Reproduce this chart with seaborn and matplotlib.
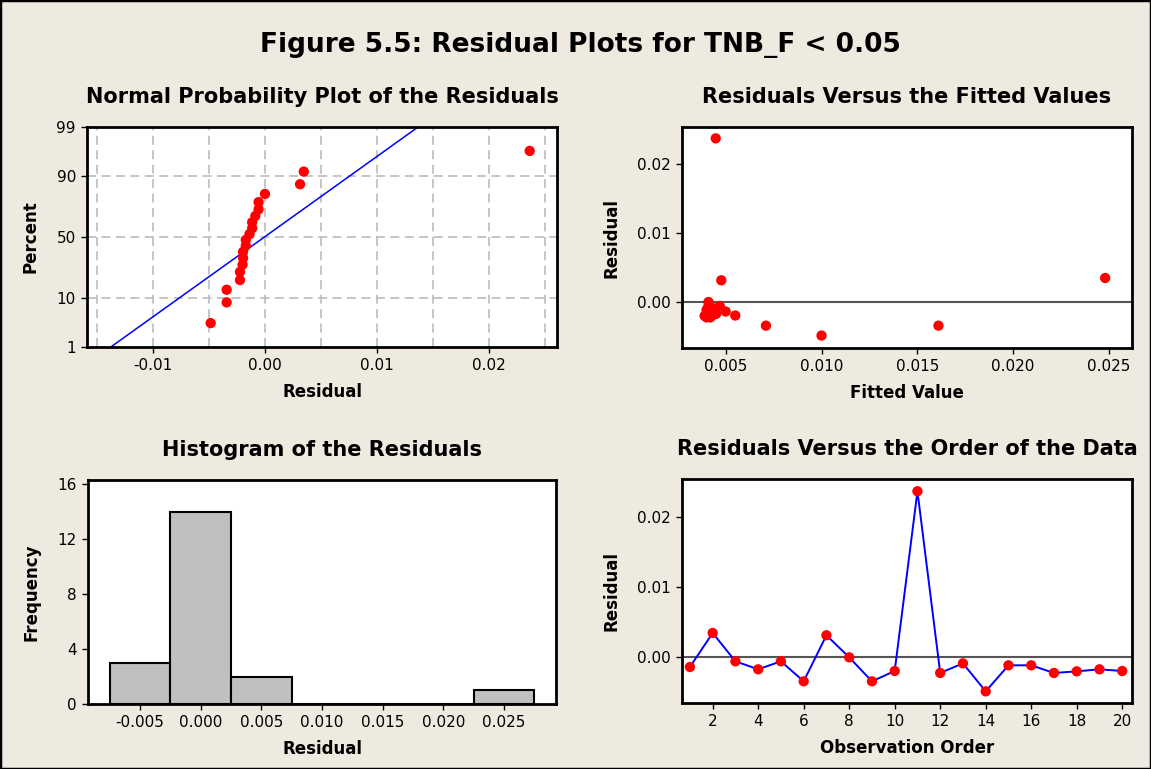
import numpy as np
import pandas as pd
import matplotlib
matplotlib.use("Agg")
import matplotlib.pyplot as plt
import seaborn as sns
from statistics import NormalDist

order = list(range(1, 21))
residual = [-0.00138, 0.00347, -0.00057, -0.00171, -0.00057, -0.00342, 0.00314, 0.00000,
            -0.00342, -0.00195, 0.02366, -0.00223, -0.00086, -0.00485, -0.00114, -0.00114,
            -0.00223, -0.00200, -0.00171, -0.00195]
fitted = [0.0050, 0.0248, 0.00469, 0.0042, 0.0041, 0.0071, 0.00477, 0.0041,
          0.0161, 0.0055, 0.00448, 0.0040, 0.0043, 0.0100, 0.0040, 0.0044,
          0.0042, 0.0039, 0.0045, 0.0043]
pct_ticks = [1, 10, 50, 90, 99]

df = pd.DataFrame({"order": order, "residual": residual, "fitted": fitted})

sns.set_style("white")
plt.rcParams['font.family'] = ['DejaVu Sans']
plt.rcParams.update({"text.color": "black", "axes.labelcolor": "black",
                     "xtick.color": "black", "ytick.color": "black"})

BG = "#eeeae0"
W, H = 1151, 769
fig = plt.figure(figsize=(W / 100, H / 100), dpi=100, facecolor=BG)
fig.patches.append(plt.Rectangle((0, 0), 1, 1, transform=fig.transFigure, fill=False,
                                 edgecolor="black", linewidth=2.5))


def px_axes(left, top, right, bottom):
    ax = fig.add_axes([left / W, 1 - bottom / H, (right - left) / W, (bottom - top) / H])
    ax.set_facecolor("white")
    for s in ax.spines.values():
        s.set_color("black")
        s.set_linewidth(2)
    ax.tick_params(axis="both", direction="out", length=4, width=1, labelsize=11,
                   colors="black", bottom=True, left=True, pad=4)
    return ax


def style(ax, title, xlabel, ylabel):
    ax.set_title(title, fontsize=15, fontweight="bold", pad=17)
    ax.set_xlabel(xlabel, fontsize=12, fontweight="bold", labelpad=7)
    ax.set_ylabel(ylabel, fontsize=12, fontweight="bold", labelpad=12)


fig.text(580 / W, 1 - 45 / H, "Figure 5.5: Residual Plots for TNB_F < 0.05",
         ha="center", va="center", fontsize=19, fontweight="bold")

# --- normal probability plot
ax1 = px_axes(87, 127, 557, 347)
nd = NormalDist()
n = len(residual)
srt = np.sort(residual)
zq = [nd.inv_cdf((i - 0.3) / (n + 0.4)) for i in range(1, n + 1)]
mu, sd = np.mean(residual), np.std(residual, ddof=1)
zl = np.array([nd.inv_cdf(0.005), nd.inv_cdf(0.995)])
ax1.plot(mu + sd * zl, zl, color="blue", linewidth=1.1)
sns.scatterplot(x=srt, y=zq, ax=ax1, color="red", s=55, edgecolor="none", zorder=3)
ax1.set_xlim(-0.0159, 0.0261)
ax1.set_ylim(nd.inv_cdf(0.01), nd.inv_cdf(0.99))
ax1.set_yticks([nd.inv_cdf(p / 100) for p in pct_ticks])
ax1.set_yticklabels([str(p) for p in pct_ticks])
ax1.set_xticks([-0.01, 0.0, 0.01, 0.02])
ax1.set_xticklabels(["-0.01", "0.00", "0.01", "0.02"])
for gx in np.arange(-0.015, 0.0251, 0.005):
    ax1.axvline(gx, color="#c0c0c0", linestyle=(0, (5, 3)), linewidth=1.3, zorder=0)
for p in [10, 50, 90]:
    ax1.axhline(nd.inv_cdf(p / 100), color="#c0c0c0", linestyle=(0, (5, 3)), linewidth=1.3, zorder=0)
style(ax1, "Normal Probability Plot of the Residuals", "Residual", "Percent")

# --- residuals vs fitted
ax2 = px_axes(682, 127, 1132, 348)
ax2.axhline(0, color="#555555", linewidth=1.5, zorder=1)
sns.scatterplot(data=df, x="fitted", y="residual", ax=ax2, color="red", s=55,
                edgecolor="none", zorder=3)
ax2.set_xlim(0.00272, 0.0262)
ax2.set_ylim(-0.00665, 0.0253)
ax2.set_xticks([0.005, 0.010, 0.015, 0.020, 0.025])
ax2.set_xticklabels(["0.005", "0.010", "0.015", "0.020", "0.025"])
ax2.set_yticks([0.0, 0.01, 0.02])
ax2.set_yticklabels(["0.00", "0.01", "0.02"])
style(ax2, "Residuals Versus the Fitted Values", "Fitted Value", "Residual")

# --- histogram
ax3 = px_axes(88, 480, 556, 704)
sns.histplot(data=df, x="residual", ax=ax3, binwidth=0.005, binrange=(-0.0075, 0.0275),
             color="#c0c0c0", edgecolor="black", linewidth=1.5, alpha=1)
ax3.set_xlim(-0.0093, 0.0293)
ax3.set_ylim(0, 16.3)
ax3.set_yticks([0, 4, 8, 12, 16])
ax3.set_xticks([-0.005, 0.0, 0.005, 0.010, 0.015, 0.020, 0.025])
ax3.set_xticklabels(["-0.005", "0.000", "0.005", "0.010", "0.015", "0.020", "0.025"])
style(ax3, "Histogram of the Residuals", "Residual", "Frequency")

# --- residuals vs order
ax4 = px_axes(682, 479, 1132, 703)
ax4.axhline(0, color="#555555", linewidth=1.5, zorder=1)
sns.lineplot(data=df, x="order", y="residual", ax=ax4, color="blue", linewidth=1.4, zorder=2)
sns.scatterplot(data=df, x="order", y="residual", ax=ax4, color="red", s=55,
                edgecolor="none", zorder=3)
ax4.set_xlim(0.652, 20.43)
ax4.set_ylim(-0.00651, 0.02541)
ax4.set_xticks(range(2, 21, 2))
ax4.set_yticks([0.0, 0.01, 0.02])
ax4.set_yticklabels(["0.00", "0.01", "0.02"])
style(ax4, "Residuals Versus the Order of the Data", "Observation Order", "Residual")

fig.savefig("out.png", dpi=100, facecolor=BG)
